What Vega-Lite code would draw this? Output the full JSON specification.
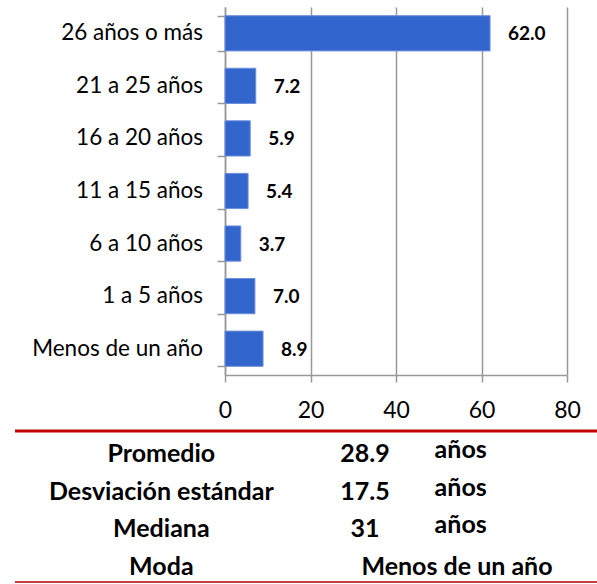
{
  "$schema": "https://vega.github.io/schema/vega-lite/v6.json",
  "padding": {"left": 13, "top": 7, "right": 0, "bottom": 0},
  "background": "white",
  "config": {
    "view": {"stroke": null},
    "font": "Lato"
  },
  "datasets": {
    "bars": [
      {"categoria": "26 años o más", "porcentaje": 62.0},
      {"categoria": "21 a 25 años", "porcentaje": 7.2},
      {"categoria": "16 a 20 años", "porcentaje": 5.9},
      {"categoria": "11 a 15 años", "porcentaje": 5.4},
      {"categoria": "6 a 10 años", "porcentaje": 3.7},
      {"categoria": "1 a 5 años", "porcentaje": 7.0},
      {"categoria": "Menos de un año", "porcentaje": 8.9}
    ],
    "stats": [
      {"stat": "Promedio", "valor": "28.9", "unidad": "años"},
      {"stat": "Desviación estándar", "valor": "17.5", "unidad": "años"},
      {"stat": "Mediana", "valor": "31", "unidad": "años"},
      {"stat": "Moda", "valor": "Menos de un año", "unidad": ""}
    ]
  },
  "spacing": 7,
  "vconcat": [
    {
      "spacing": 13,
      "hconcat": [
        {
          "width": 188,
          "height": 368,
          "data": {"name": "bars"},
          "mark": {"type": "text", "align": "right", "baseline": "middle", "fontSize": 22.5, "color": "black", "font": "Lato"},
          "encoding": {
            "y": {"field": "categoria", "type": "nominal", "sort": null, "axis": null, "scale": {"paddingInner": 0.33, "paddingOuter": 0.165}},
            "x": {"value": "width"},
            "text": {"field": "categoria"}
          }
        },
        {
          "width": 342,
          "height": 368,
          "data": {"name": "bars"},
          "encoding": {
            "y": {
              "field": "categoria", "type": "nominal", "sort": null,
              "scale": {"paddingInner": 0.33, "paddingOuter": 0.165},
              "axis": {"title": null, "labels": false, "ticks": true, "tickSize": 8, "tickBand": "extent", "tickColor": "#999999", "tickWidth": 1.5, "domainColor": "#999999", "domainWidth": 1.5, "grid": false}
            },
            "x": {
              "field": "porcentaje", "type": "quantitative",
              "scale": {"domain": [0, 80], "nice": false},
              "axis": {"title": null, "values": [0, 20, 40, 60, 80], "grid": true, "gridColor": "#999999", "gridWidth": 1.5, "tickSize": 7, "tickColor": "#999999", "tickWidth": 1.5, "domainColor": "#999999", "domainWidth": 1.5, "labelFontSize": 23, "labelFont": "Lato", "labelColor": "black", "labelPadding": 17, "labelFlush": false}
            }
          },
          "layer": [
            {"mark": {"type": "bar", "color": "#3366cc", "stroke": "#6f8fdc", "strokeWidth": 1}},
            {
              "mark": {"type": "text", "align": "left", "baseline": "middle", "dx": 18, "dy": 1, "fontSize": 19, "fontWeight": "bold", "color": "black", "font": "Lato"},
              "encoding": {"text": {"field": "porcentaje", "type": "quantitative", "format": ".1f"}}
            }
          ]
        }
      ]
    },
    {
      "width": 584,
      "height": 151,
      "data": {"name": "stats"},
      "transform": [{"fold": ["stat", "valor", "unidad"], "as": ["col", "txt"]}],
      "encoding": {
        "y": {"field": "stat", "type": "nominal", "axis": null, "scale": {"domain": ["Promedio", "Desviación estándar", "Mediana", "Moda"]}}
      },
      "layer": [
        {
          "transform": [{"filter": "datum.col === 'stat' && datum.stat === 'Promedio'"}],
          "mark": {"type": "rule", "color": "#c00000", "strokeWidth": 3},
          "encoding": {"y": {"field": "stat", "type": "nominal", "bandPosition": 0, "axis": null, "scale": {"domain": ["Promedio", "Desviación estándar", "Mediana", "Moda"]}}}
        },
        {
          "transform": [{"filter": "datum.col === 'stat' && datum.stat === 'Moda'"}],
          "mark": {"type": "rule", "color": "#b00000", "strokeWidth": 1.5},
          "encoding": {"y": {"field": "stat", "type": "nominal", "bandPosition": 1, "axis": null, "scale": {"domain": ["Promedio", "Desviación estándar", "Mediana", "Moda"]}}}
        },
        {
          "transform": [{"filter": "datum.col === 'stat'"}],
          "mark": {"type": "text", "align": "center", "baseline": "middle", "dx": 49, "dy": 4, "fontSize": 25, "fontWeight": "bold", "color": "black", "font": "Lato"},
          "encoding": {
            "x": {"field": "col", "type": "nominal", "axis": null, "scale": {"type": "point", "domain": ["stat", "valor", "unidad"], "padding": 0.5}},
            "text": {"field": "txt"}
          }
        },
        {
          "transform": [{"filter": "datum.col === 'valor' && datum.stat !== 'Moda'"}],
          "mark": {"type": "text", "align": "center", "baseline": "middle", "dx": 58, "dy": 4, "fontSize": 25, "fontWeight": "bold", "color": "black", "font": "Lato"},
          "encoding": {
            "x": {"field": "col", "type": "nominal", "axis": null, "scale": {"type": "point", "domain": ["stat", "valor", "unidad"], "padding": 0.5}},
            "text": {"field": "txt"}
          }
        },
        {
          "transform": [{"filter": "datum.col === 'valor' && datum.stat === 'Moda'"}],
          "mark": {"type": "text", "align": "center", "baseline": "middle", "dx": 150, "dy": 4, "fontSize": 25, "fontWeight": "bold", "color": "black", "font": "Lato"},
          "encoding": {
            "x": {"field": "col", "type": "nominal", "axis": null, "scale": {"type": "point", "domain": ["stat", "valor", "unidad"], "padding": 0.5}},
            "text": {"field": "txt"}
          }
        },
        {
          "transform": [{"filter": "datum.col === 'unidad' && datum.txt !== ''"}],
          "mark": {"type": "text", "align": "center", "baseline": "middle", "dx": -41, "dy": 0, "fontSize": 25, "fontWeight": "bold", "color": "black", "font": "Lato"},
          "encoding": {
            "x": {"field": "col", "type": "nominal", "axis": null, "scale": {"type": "point", "domain": ["stat", "valor", "unidad"], "padding": 0.5}},
            "text": {"field": "txt"}
          }
        }
      ]
    }
  ]
}
